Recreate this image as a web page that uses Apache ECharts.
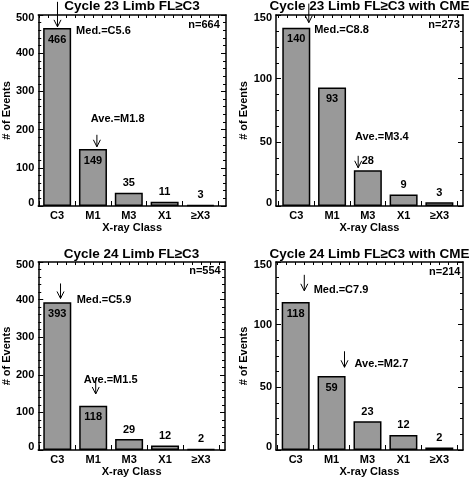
<!DOCTYPE html>
<html><head><meta charset="utf-8">
<script src="https://cdn.jsdelivr.net/npm/echarts@6/dist/echarts.min.js"></script>
<style>html,body{margin:0;padding:0;background:#fff}#c{width:471px;height:479px}</style>
</head><body><div id="c"></div><script>
// ---- data ----
const categories = ['C3', 'M1', 'M3', 'X1', '≥X3'];
const titles = ['Cycle 23 Limb FL≥C3', 'Cycle 23 Limb FL≥C3 with CME', 'Cycle 24 Limb FL≥C3', 'Cycle 24 Limb FL≥C3 with CME'];
const counts1 = [466, 149, 35, 11, 3];
const counts2 = [140, 93, 28, 9, 3];
const counts3 = [393, 118, 29, 12, 2];
const counts4 = [118, 59, 23, 12, 2];
const yMax = [500, 150, 500, 150];
const yStep = [100, 50, 100, 50];
const totals = ['n=664', 'n=273', 'n=554', 'n=214'];
const medText = ['Med.=C5.6', 'Med.=C8.8', 'Med.=C5.9', 'Med.=C7.9'];
const aveText = ['Ave.=M1.8', 'Ave.=M3.4', 'Ave.=M1.5', 'Ave.=M2.7'];
// annotation anchors in data units [x (category index), y (events)]
const medArrow = [[0.01, 469], [0.35, 144], [0.09, 403], [0.24, 127]];
const aveArrow = [[1.11, 155], [1.73, 30], [1.07, 149], [1.36, 66]];
const medPos = [[0.53, 457], [0.50, 138], [0.54, 400], [0.50, 128]];
const avePos = [[0.94, 229], [1.64, 54], [0.74, 187], [1.64, 69]];
const nPos = [[4.54, 474], [4.57, 142], [4.55, 475], [4.59, 142]];

// ---- layout / style ----
const countsAll = [counts1, counts2, counts3, counts4];
const medArrowLen = [25, 19, 15, 16];
const aveArrowLen = [12, 12, 16, 16];
const grids = [
  {left: 38, top: 15, width: 188, height: 191},
  {left: 276, top: 15, width: 187, height: 191},
  {left: 38, top: 262, width: 187, height: 188},
  {left: 276, top: 262, width: 187, height: 188}
];
const xRange = [[-0.527, 4.713], [-0.567, 4.66], [-0.53, 4.67], [-0.548, 4.66]];
const titleY = [6, 254.5];
const yNameGap = [25, 26.5, 25, 26.5];
const FF = 'Liberation Sans';
const black = '#000';
const txt = {fontFamily: FF, fontSize: 11, fontWeight: 'bold', color: black};

const boundaries = [-0.5, 0.5, 1.5, 2.5, 3.5, 4.5];

const option = {animation: false, backgroundColor: '#fff', grid: [], xAxis: [], yAxis: [], series: [], graphic: []};

for (let i = 0; i < 4; i++) {
  const g = grids[i];
  option.grid.push(Object.assign({containLabel: false}, g));
  const [xmin, xmax] = xRange[i];
  const quarters = [];
  for (let k = -4; k <= 24; k++) { const v = -0.5 + k * 0.25; if (v > xmin && v < xmax) quarters.push(v); }
  const lineStyle = {color: black, width: 1.5};
  // bottom x
  option.xAxis.push({
    type: 'value', gridIndex: i, position: 'bottom', min: xmin, max: xmax,
    axisLine: {show: true, onZero: false, lineStyle},
    splitLine: {show: false},
    axisTick: {show: true, inside: true, length: 5, customValues: boundaries, lineStyle: {color: black, width: 1}},
    axisLabel: Object.assign({customValues: [0, 1, 2, 3, 4], formatter: v => categories[Math.round(v)], margin: 4}, txt),
    name: 'X-ray Class', nameLocation: 'middle', nameGap: 16.5, nameTextStyle: Object.assign({}, txt)
  });
  // top x
  option.xAxis.push({
    type: 'value', gridIndex: i, position: 'top', min: xmin, max: xmax,
    axisLine: {show: true, onZero: false, lineStyle},
    splitLine: {show: false},
    axisTick: {show: true, inside: true, length: 3, customValues: quarters, lineStyle: {color: black, width: 1}},
    axisLabel: {show: false}
  });
  const minorN = yStep[i] === 100 ? 5 : 4;
  const richFont = {fontFamily: FF, fontSize: 11, fontWeight: 'bold', color: black};
  option.yAxis.push({
    type: 'value', gridIndex: i, position: 'left', min: 0, max: yMax[i], interval: yStep[i],
    axisLine: {show: true, onZero: false, lineStyle},
    splitLine: {show: false},
    axisTick: {show: true, inside: true, length: 5, lineStyle: {color: black, width: 1}},
    minorTick: {show: true, splitNumber: minorN, length: 3, lineStyle: {color: black, width: 1}},
    axisLabel: Object.assign({
      margin: 4,
      formatter: v => v === 0 ? '{lo|0}' : (v === yMax[i] ? '{hi|' + v + '}' : String(v)),
      rich: {lo: Object.assign({padding: [0, 0, 6, 0]}, richFont), hi: Object.assign({padding: [6, 0, 0, 0]}, richFont)}
    }, txt),
    name: '# of Events', nameLocation: 'middle', nameGap: yNameGap[i], nameRotate: 90,
    nameTextStyle: Object.assign({}, txt)
  });
  option.yAxis.push({
    type: 'value', gridIndex: i, position: 'right', min: 0, max: yMax[i], interval: yStep[i],
    axisLine: {show: true, onZero: false, lineStyle},
    splitLine: {show: false},
    axisTick: {show: true, inside: true, length: 5, lineStyle: {color: black, width: 1}},
    minorTick: {show: true, splitNumber: minorN, length: 3, lineStyle: {color: black, width: 1}},
    axisLabel: {show: false}
  });
  // bars
  option.series.push({
    type: 'bar', xAxisIndex: 2 * i, yAxisIndex: 2 * i, barWidth: 28,
    itemStyle: {color: '#999999', borderColor: black, borderWidth: 1.5},
    label: Object.assign({show: true, formatter: p => String(p.value[1])}, txt),
    data: countsAll[i].map((v, j) => ({
      value: [j, v],
      label: v > 0.2 * yMax[i] ? {position: 'insideTop', distance: 6} : {position: 'top', distance: 4}
    }))
  });
  // arrows
  const arrowLens = [medArrowLen[i], aveArrowLen[i]];
  option.series.push({
    type: 'custom', xAxisIndex: 2 * i, yAxisIndex: 2 * i, silent: true, z: 5, clip: false,
    data: [medArrow[i], aveArrow[i]],
    renderItem: (params, api) => {
      const p = api.coord([api.value(0), api.value(1)]);
      const L = arrowLens[params.dataIndex];
      return {type: 'group', children: [
        {type: 'line', shape: {x1: p[0], y1: p[1] - L, x2: p[0], y2: p[1]}, style: {stroke: black, lineWidth: 1}},
        {type: 'polyline', shape: {points: [[p[0] - 3.5, p[1] - 7], [p[0], p[1]], [p[0] + 3.5, p[1] - 7]]}, style: {stroke: black, lineWidth: 1, fill: null}}
      ]};
    }
  });
  // text notes
  const notes = [medText[i], aveText[i], totals[i]];
  option.series.push({
    type: 'custom', xAxisIndex: 2 * i, yAxisIndex: 2 * i, silent: true, z: 6, clip: false,
    data: [medPos[i], avePos[i], nPos[i]],
    renderItem: (params, api) => {
      const k = params.dataIndex;
      const p = api.coord([api.value(0), api.value(1)]);
      return {type: 'text', x: p[0], y: p[1], style: {
        text: notes[k], font: 'bold 11px "' + FF + '"', fill: black,
        align: k === 2 ? 'right' : 'left', verticalAlign: 'middle'}};
    }
  });
  // title
  option.graphic.push({
    type: 'text', x: g.left + g.width / 2, y: titleY[i < 2 ? 0 : 1],
    style: {text: titles[i], font: 'bold 13.5px "' + FF + '"', fill: black, align: 'center', verticalAlign: 'middle'}
  });
}

const chart = echarts.init(document.getElementById('c'), null, {renderer: 'canvas'});
chart.setOption(option);
</script></body></html>
